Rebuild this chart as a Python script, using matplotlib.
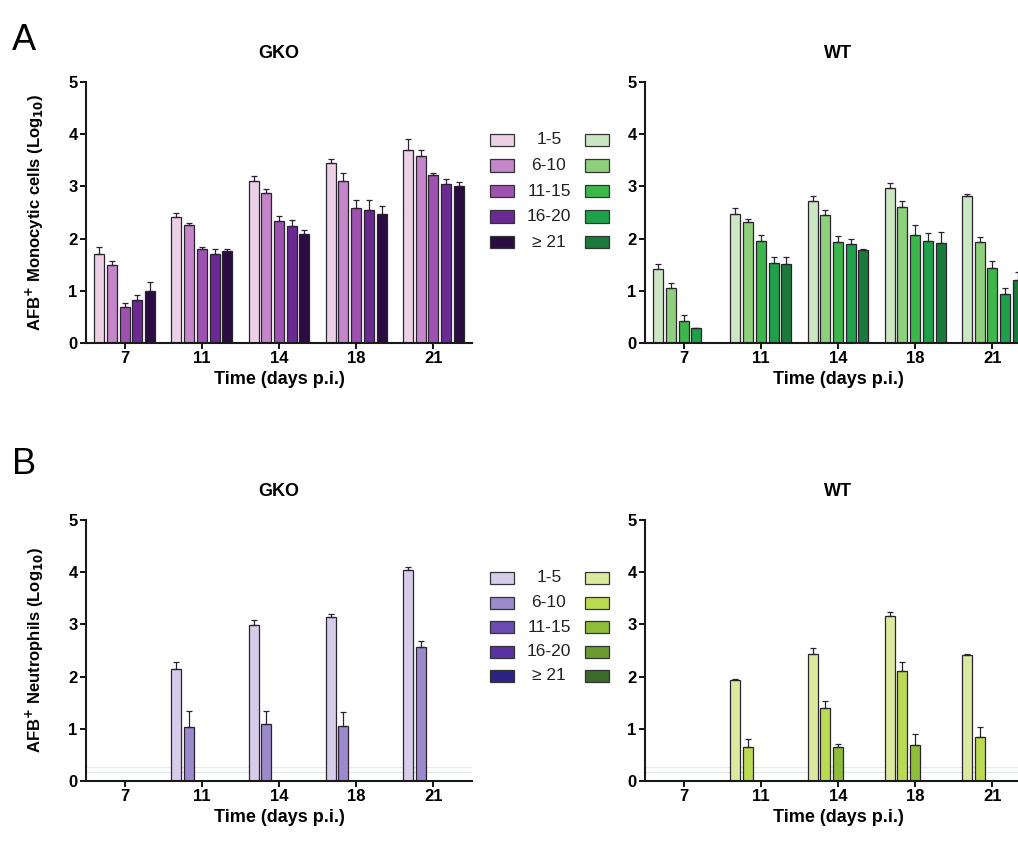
import numpy as np
import matplotlib
matplotlib.use("Agg")
import matplotlib.pyplot as plt
from matplotlib.patches import Rectangle

days = ['7', '11', '14', '18', '21']
bins = ['1-5', '6-10', '11-15', '16-20', '≥ 21']

# A: AFB+ monocytic cells, rows = bins, columns = days
mono_gko = [[1.70, 2.42, 3.10, 3.44, 3.70],
            [1.49, 2.26, 2.87, 3.11, 3.59],
            [0.69, 1.81, 2.34, 2.58, 3.22],
            [0.83, 1.70, 2.24, 2.55, 3.04],
            [0.99, 1.76, 2.08, 2.47, 3.01]]
mono_gko_err = [[0.13, 0.07, 0.10, 0.08, 0.20],
                [0.09, 0.03, 0.08, 0.14, 0.10],
                [0.08, 0.02, 0.10, 0.16, 0.04],
                [0.08, 0.10, 0.11, 0.19, 0.10],
                [0.17, 0.04, 0.08, 0.15, 0.08]]
mono_wt = [[1.41, 2.48, 2.72, 2.96, 2.82],
           [1.05, 2.32, 2.45, 2.60, 1.94],
           [0.43, 1.96, 1.94, 2.07, 1.43],
           [0.29, 1.53, 1.90, 1.96, 0.94],
           [0.00, 1.51, 1.78, 1.91, 1.20]]
mono_wt_err = [[0.10, 0.10, 0.10, 0.10, 0.03],
               [0.10, 0.06, 0.10, 0.12, 0.10],
               [0.10, 0.10, 0.11, 0.19, 0.14],
               [0.00, 0.11, 0.09, 0.14, 0.12],
               [0.00, 0.13, 0.03, 0.21, 0.16]]

# B: AFB+ neutrophils
neut_gko = [[0.00, 2.15, 2.99, 3.14, 4.04],
            [0.00, 1.04, 1.10, 1.06, 2.57],
            [0.00, 0.00, 0.00, 0.00, 0.00],
            [0.00, 0.00, 0.00, 0.00, 0.00],
            [0.00, 0.00, 0.00, 0.00, 0.00]]
neut_gko_err = [[0.00, 0.13, 0.10, 0.06, 0.06],
                [0.00, 0.30, 0.25, 0.27, 0.11],
                [0.00, 0.00, 0.00, 0.00, 0.00],
                [0.00, 0.00, 0.00, 0.00, 0.00],
                [0.00, 0.00, 0.00, 0.00, 0.00]]
neut_wt = [[0.00, 1.94, 2.44, 3.16, 2.42],
           [0.00, 0.66, 1.40, 2.10, 0.84],
           [0.00, 0.00, 0.66, 0.69, 0.00],
           [0.00, 0.00, 0.00, 0.00, 0.00],
           [0.00, 0.00, 0.00, 0.00, 0.00]]
neut_wt_err = [[0.00, 0.01, 0.10, 0.07, 0.02],
               [0.00, 0.15, 0.14, 0.18, 0.20],
               [0.00, 0.00, 0.04, 0.21, 0.00],
               [0.00, 0.00, 0.00, 0.00, 0.00],
               [0.00, 0.00, 0.00, 0.00, 0.00]]

purples_a = ['#ecd0e6', '#c485c9', '#9d52b0', '#6b2a92', '#2a0c42']
greens_a = ['#cbe6c3', '#8fd07c', '#3db64c', '#1fa04a', '#1b7a3b']
purples_b = ['#d6cdea', '#9b8bcd', '#6d4cb2', '#5a32a2', '#2d2384']
greens_b = ['#dcea9f', '#bada52', '#8dbd39', '#6b9a31', '#3b6a2a']

fig = plt.figure(figsize=(10.18, 8.42), dpi=100)
plt.rcParams['font.family'] = ['Liberation Sans', 'DejaVu Sans']

W, H = 1018, 842


def px_axes(left, top, right, bottom):
    return fig.add_axes([left / W, 1 - bottom / H, (right - left) / W, (bottom - top) / H])


def draw_panel(ax, values, errors, colors, title, xlim_right, faint=False):
    x = np.arange(len(days))
    pitch, width = 0.165, 0.13
    if faint:
        ax.axhline(0.18, color='#dfe6ea', lw=0.8, zorder=0)
        ax.axhline(0.27, color='#e6ecee', lw=0.8, zorder=0)
    for i in range(len(bins)):
        vals = np.array(values[i])
        errs = np.array(errors[i])
        pos = x + (i - 2) * pitch
        show = vals > 0
        ax.bar(pos[show], vals[show], width, color=colors[i],
               edgecolor='#2b2230', linewidth=0.9, zorder=2)
        ax.errorbar(pos[show], vals[show], yerr=[np.zeros(show.sum()), errs[show]],
                    fmt='none', ecolor='#2b2230', elinewidth=0.9, capsize=2.2,
                    capthick=0.9, zorder=3)
    ax.set_xlim(-0.5, xlim_right)
    ax.set_ylim(0, 5)
    ax.set_xticks(x)
    ax.set_xticklabels(days)
    ax.set_yticks(range(6))
    for s in ['top', 'right']:
        ax.spines[s].set_visible(False)
    for s in ['left', 'bottom']:
        ax.spines[s].set_linewidth(1.5)
        ax.spines[s].set_color('#1a1a1a')
    ax.tick_params(direction='out', length=4, width=1.3, labelsize=12, pad=2)
    for lab in ax.get_xticklabels() + ax.get_yticklabels():
        lab.set_fontweight('bold')
    ax.set_xlabel('Time (days p.i.)', fontsize=13, fontweight='bold', labelpad=3)
    ax.set_title(title, fontsize=13, fontweight='bold', pad=17)


# panel A
ax1 = px_axes(86, 82, 472, 343)
draw_panel(ax1, mono_gko, mono_gko_err, purples_a, 'GKO', 4.5)
ax1.set_ylabel('AFB$^{\\mathbf{+}}$ Monocytic cells (Log$_{\\mathbf{10}}$)',
               fontsize=12, fontweight='bold', labelpad=16)
ax2 = px_axes(645, 82, 1031, 343)
draw_panel(ax2, mono_wt, mono_wt_err, greens_a, 'WT', 4.5)

# panel B
ax3 = px_axes(86, 520, 472, 781)
draw_panel(ax3, neut_gko, neut_gko_err, purples_b, 'GKO', 4.5, faint=True)
ax3.set_ylabel('AFB$^{\\mathbf{+}}$ Neutrophils (Log$_{\\mathbf{10}}$)',
               fontsize=12, fontweight='bold', labelpad=16)
ax4 = px_axes(645, 520, 1031, 781)
draw_panel(ax4, neut_wt, neut_wt_err, greens_b, 'WT', 4.5, faint=True)

fig.text(12 / W, 1 - 40 / H, 'A', fontsize=26, va='center', ha='left')
fig.text(12 / W, 1 - 465 / H, 'B', fontsize=26, va='center', ha='left')


def draw_legend(top, step, left_cols, right_cols):
    for i, lab in enumerate(bins):
        yc = top + i * step
        for x0, cols in ((490, left_cols), (585, right_cols)):
            fig.add_artist(Rectangle((x0 / W, 1 - (yc + 6) / H), 24 / W, 12 / H,
                                     transform=fig.transFigure, facecolor=cols[i],
                                     edgecolor='#333333', linewidth=0.9))
        fig.text(549 / W, 1 - yc / H, lab, fontsize=12.5, ha='center', va='center',
                 color='#222222')


draw_legend(140, 25.5, purples_a, greens_a)
draw_legend(578, 24.5, purples_b, greens_b)

fig.savefig('out.png', dpi=100)
